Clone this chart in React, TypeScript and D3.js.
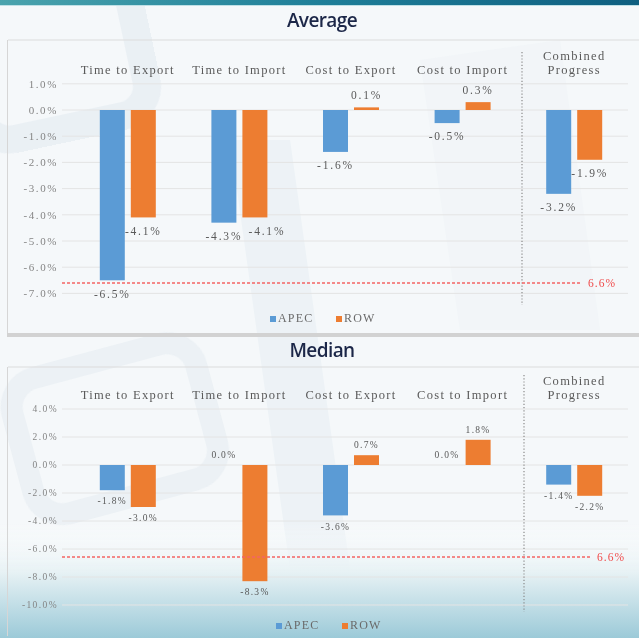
import React from "react";
import * as d3 from "d3";

const categories = ["Time to Export", "Time to Import", "Cost to Export", "Cost to Import", "Combined Progress"];
const seriesNames = ["APEC", "ROW"];
const avgAPEC = [-6.5, -4.3, -1.6, -0.5, -3.2];
const avgROW = [-4.1, -4.1, 0.1, 0.3, -1.9];
const medAPEC = [-1.8, 0.0, -3.6, 0.0, -1.4];
const medROW = [-3.0, -8.3, 0.7, 1.8, -2.2];
const avgTicks = [1, 0, -1, -2, -3, -4, -5, -6, -7];
const medTicks = [4, 2, 0, -2, -4, -6, -8, -10];
const targetValue = -6.6;
const targetLabel = "6.6%";

const BLUE = "#5b9bd5";
const ORANGE = "#ed7d31";
const SERIF = "'Liberation Serif', 'DejaVu Serif', serif";
const SANS = "'Open Sans', 'Noto Sans', sans-serif";

type PanelProps = {
  title: string;
  titleY: number;
  ruleY: number;
  apec: number[];
  row: number[];
  ticks: number[];
  yDomain: [number, number];
  yRange: [number, number];
  catY: number;
  vlineX: number;
  vline: [number, number];
  redEnd: number;
  redLabelX: number;
  legendY: number;
  legendX: number;
  tickSize: number;
  tickSpacing: number;
  labelSize: number;
  labelSpacing: number;
  fmt: (v: number) => string;
};

function Panel(p: PanelProps) {
  const x0 = d3.scaleBand<string>().domain(categories).range([72, 630]);
  const x1 = d3.scaleBand<string>().domain(seriesNames).range([-28, 28]).paddingInner(0.194);
  const y = d3.scaleLinear().domain(p.yDomain).range(p.yRange);
  const vals = [p.apec, p.row];
  const colors = [BLUE, ORANGE];
  const catStyle = { fontFamily: SERIF, fontSize: 12.5, fill: "#5a5a5a", letterSpacing: 1.3 } as const;
  const labelY = (v: number) => (v < 0 ? y(v) + p.labelSize * 1.5 : y(v) - p.labelSize * 0.75);
  const redY = Math.round(y(targetValue));
  return (
    <g>
      <text x={322} y={p.titleY} textAnchor="middle" fontFamily={SANS} fontSize={19} fontWeight={600} fill="#1c2748" letterSpacing={-0.6}>
        {p.title}
      </text>
      <line x1={8} x2={639} y1={p.ruleY} y2={p.ruleY} stroke="#dcdcdc" strokeWidth={1.2} />
      {p.ticks.map((t) => (
        <g key={t}>
          <line x1={62} x2={628} y1={y(t)} y2={y(t)} stroke="#e4e4e4" strokeWidth={1} />
          <text x={58} y={y(t) + p.tickSize * 0.35} textAnchor="end" fontFamily={SERIF} fontSize={p.tickSize} fill="#858585" letterSpacing={p.tickSpacing}>
            {`${t.toFixed(1)}%`}
          </text>
        </g>
      ))}
      {categories.map((c) => {
        const cx = (x0(c) as number) + x0.bandwidth() / 2;
        if (c === "Combined Progress") {
          return (
            <text key={c} x={cx} textAnchor="middle" {...catStyle}>
              <tspan x={cx} y={p.catY - 14}>Combined</tspan>
              <tspan x={cx} y={p.catY}>Progress</tspan>
            </text>
          );
        }
        return (
          <text key={c} x={cx} y={p.catY} textAnchor="middle" {...catStyle}>
            {c}
          </text>
        );
      })}
      {categories.map((c, i) => {
        const cx = (x0(c) as number) + x0.bandwidth() / 2;
        const la = labelY(vals[0][i]);
        const lr = labelY(vals[1][i]);
        const clash = Math.abs(la - lr) < p.labelSize * 0.9;
        return seriesNames.map((s, j) => {
          const v = vals[j][i];
          const bx = cx + (x1(s) as number);
          const y0 = y(0);
          const yv = y(v);
          const top = Math.min(y0, yv);
          const h = Math.abs(yv - y0);
          const lx = bx + x1.bandwidth() / 2 + (clash && j === 1 ? 12 : 0);
          const ly = labelY(v);
          return (
            <g key={c + s}>
              {h > 0 && <rect x={bx} y={top} width={x1.bandwidth()} height={h} fill={colors[j]} />}
              <text x={lx} y={ly} textAnchor="middle" fontFamily={SERIF} fontSize={p.labelSize} fill="#595959" letterSpacing={p.labelSpacing}>
                {p.fmt(v)}
              </text>
            </g>
          );
        });
      })}
      <line x1={p.vlineX} x2={p.vlineX} y1={p.vline[0]} y2={p.vline[1]} stroke="#8a8a8a" strokeWidth={1.2} strokeDasharray="1.2,2" />
      <line x1={62} x2={p.redEnd} y1={redY} y2={redY} stroke="#f36464" strokeWidth={1.6} strokeDasharray="3,2" />
      <text x={p.redLabelX} y={redY + 4} fontFamily={SERIF} fontSize={11.5} fill="#f04a4a" letterSpacing={1}>
        {targetLabel}
      </text>
      {seriesNames.map((s, j) => {
        const lx = p.legendX + j * 66;
        return (
          <g key={s}>
            <rect x={lx} y={p.legendY - 6} width={6} height={6} fill={colors[j]} />
            <text x={lx + 8} y={p.legendY} fontFamily={SERIF} fontSize={12} fill="#6a6a6a" letterSpacing={1.2}>
              {s}
            </text>
          </g>
        );
      })}
    </g>
  );
}

export default function App() {
  const pct1 = (v: number) => `${v.toFixed(1)}%`;
  return (
    <svg width={639} height={638} style={{ position: "absolute", left: 0, top: 0 }} xmlns="http://www.w3.org/2000/svg">
      <defs>
        <linearGradient id="topband" x1="0" x2="1" y1="0" y2="0">
          <stop offset="0" stopColor="#4aa3ad" />
          <stop offset="0.5" stopColor="#1f7f99" />
          <stop offset="1" stopColor="#0f5f80" />
        </linearGradient>
        <linearGradient id="bottomGrad" x1="0" x2="0" y1="0" y2="1">
          <stop offset="0" stopColor="#ffffff" stopOpacity={0} />
          <stop offset="0.45" stopColor="#e6f1f4" />
          <stop offset="1" stopColor="#9ccad8" />
        </linearGradient>
      </defs>
      <rect x={0} y={0} width={639} height={638} fill="#f5f8fa" />
      <g opacity={0.5}>
        <rect x={-30} y={-20} width={170} height={150} rx={30} fill="none" stroke="#dfe8ef" strokeWidth={28} transform="rotate(-12 50 60)" />
        <path d="M230 140 L300 640 L360 640 L290 140 Z" fill="#e4edf3" />
        <path d="M420 60 L560 40 L600 330 L460 330 Z" fill="#eef3f7" />
        <rect x={20} y={360} width={190} height={140} rx={30} fill="none" stroke="#e2eaf0" strokeWidth={22} transform="rotate(-15 110 430)" />
      </g>
      <rect x={0} y={520} width={639} height={118} fill="url(#bottomGrad)" />
      <rect x={0} y={0} width={639} height={5} fill="url(#topband)" />
      <line x1={0} x2={639} y1={5.5} y2={5.5} stroke="#bfe0e6" strokeWidth={1} />
      <line x1={7.5} x2={7.5} y1={40} y2={333} stroke="#d6d6d6" strokeWidth={1} />
      <line x1={7.5} x2={7.5} y1={367} y2={636} stroke="#d6d6d6" strokeWidth={1} />
      <rect x={7} y={333} width={632} height={4} fill="#d2d2d2" />
      <Panel
        title="Average"
        titleY={27}
        ruleY={40}
        apec={avgAPEC}
        row={avgROW}
        ticks={avgTicks}
        yDomain={[-7, 1]}
        yRange={[293.4, 83.8]}
        catY={74}
        vlineX={522}
        vline={[52, 305]}
        redEnd={580}
        redLabelX={588}
        legendY={322}
        legendX={270}
        tickSize={11}
        tickSpacing={1.6}
        labelSize={11.5}
        labelSpacing={1.8}
        fmt={pct1}
      />
      <Panel
        title="Median"
        titleY={357}
        ruleY={367}
        apec={medAPEC}
        row={medROW}
        ticks={medTicks}
        yDomain={[-10, 4]}
        yRange={[605, 409]}
        catY={399}
        vlineX={524}
        vline={[375, 612]}
        redEnd={590}
        redLabelX={597}
        legendY={629}
        legendX={276}
        tickSize={9.5}
        tickSpacing={1.4}
        labelSize={9.5}
        labelSpacing={1.3}
        fmt={pct1}
      />
    </svg>
  );
}
